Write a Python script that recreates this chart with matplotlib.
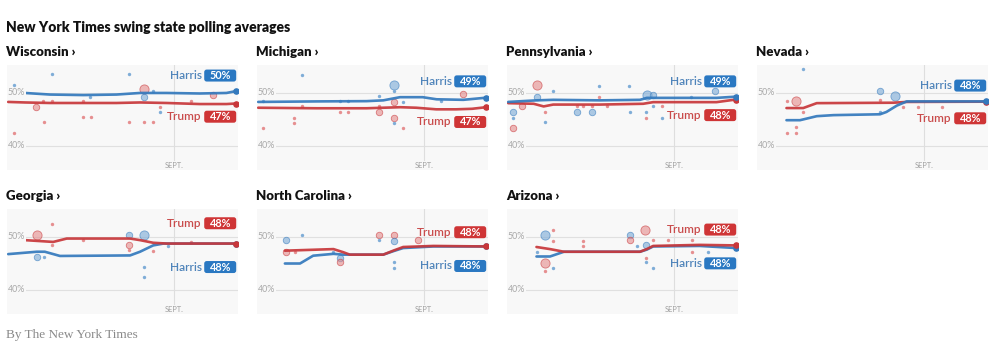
import matplotlib
matplotlib.use("Agg")
import matplotlib.pyplot as plt
from matplotlib.patches import FancyBboxPatch
import matplotlib.transforms as mtransforms

# ---------------- data (days since July 21; Sept 1 = day 42) ----------------
title = "New York Times swing state polling averages"
byline = "By The New York Times"
sept_day = 42

states = ["Wisconsin", "Michigan", "Pennsylvania", "Nevada",
          "Georgia", "North Carolina", "Arizona"]

wi_h_days = [0.3, 4.5, 10.8, 19.2, 27.5, 33.4, 40.1, 48.4, 55.1, 57.5]
wi_harris = [50.1, 50.0, 49.7, 49.6, 49.7, 50.0, 50.0, 49.9, 50.0, 50.35]
wi_t_days = [0.3, 4.5, 10.8, 19.2, 27.5, 33.4, 40.1, 48.4, 55.1, 57.5]
wi_trump = [48.3, 48.2, 48.1, 48.1, 48.1, 48.2, 48.1, 47.9, 47.9, 48.0]
wi_polls = [(11.2, 53.6, "H", 1), (30.7, 53.6, "H", 1), (1.8, 51.5, "H", 1),
            (34.4, 50.7, "T", 3), (34.4, 49.3, "H", 2), (36.6, 50.4, "H", 1),
            (20.8, 49.3, "H", 1), (51.8, 49.6, "T", 2), (7.4, 47.3, "T", 2),
            (9.1, 48.5, "T", 1), (11.2, 48.5, "T", 1), (19.0, 48.5, "T", 1),
            (46.1, 48.5, "T", 1), (38.4, 47.4, "T", 1), (38.4, 46.4, "H", 1),
            (19.0, 45.5, "T", 1), (21.0, 45.5, "T", 1), (9.4, 44.5, "T", 1),
            (30.7, 44.5, "T", 1), (34.4, 44.5, "T", 1), (36.6, 44.5, "T", 1),
            (1.8, 42.4, "T", 1)]

mi_h_days = [0.3, 15.0, 27.5, 31.7, 35.9, 41.6, 45.1, 51.8, 57.5]
mi_harris = [48.3, 48.4, 48.45, 48.6, 49.2, 49.2, 48.8, 48.7, 49.1]
mi_t_days = [0.3, 15.0, 27.5, 31.7, 36.0, 40.0, 45.0, 50.0, 54.0, 57.5]
mi_trump = [47.2, 47.1, 47.1, 47.2, 47.3, 47.2, 46.9, 46.9, 47.0, 47.3]
mi_polls = [(11.2, 53.4, "H", 1), (34.4, 51.5, "H", 3), (34.4, 50.4, "H", 1),
            (1.6, 48.4, "H", 1), (34.4, 48.3, "T", 2), (36.6, 48.3, "H", 1),
            (20.8, 48.4, "H", 1), (22.9, 48.4, "H", 1), (30.7, 49.5, "H", 1),
            (30.7, 47.45, "T", 1), (30.7, 46.4, "T", 2), (51.8, 49.8, "T", 2),
            (46.1, 48.4, "H", 1), (20.8, 46.4, "T", 1), (22.9, 46.4, "T", 1),
            (9.4, 45.3, "T", 1), (9.4, 44.3, "T", 1), (34.4, 45.3, "T", 2),
            (34.4, 44.3, "H", 1), (36.6, 43.4, "T", 1), (1.6, 43.4, "T", 1),
            (11.2, 47.45, "T", 1)]

pa_h_days = [0.3, 7.4, 11.6, 23.3, 33.4, 35.1, 52.6, 57.5]
pa_harris = [48.3, 48.6, 48.7, 48.6, 48.7, 49.07, 49.07, 49.3]
pa_t_days = [0.3, 6.7, 9.2, 11.6, 23.3, 34.2, 36.7, 52.6, 57.5]
pa_trump = [48.07, 47.95, 47.45, 47.8, 47.8, 47.95, 48.26, 48.26, 48.76]
pa_polls = [(7.6, 51.5, "T", 3), (7.6, 49.3, "H", 2), (11.6, 50.4, "H", 1),
            (23.2, 51.4, "H", 1), (30.7, 51.4, "H", 1), (23.2, 49.3, "T", 1),
            (35.1, 49.6, "H", 3), (36.7, 49.6, "H", 2), (52.2, 50.3, "H", 2),
            (46.3, 49.3, "H", 1), (1.6, 46.4, "H", 2), (1.6, 45.3, "H", 1),
            (1.6, 43.3, "T", 2), (3.7, 47.45, "T", 2), (9.5, 46.4, "T", 1),
            (9.5, 44.5, "H", 1), (17.5, 46.4, "H", 2), (21.3, 46.4, "H", 2),
            (17.5, 47.45, "T", 1), (19.2, 47.45, "T", 1), (21.3, 47.45, "T", 1),
            (25.0, 47.45, "T", 1), (30.9, 46.4, "H", 1), (34.9, 46.4, "H", 1),
            (34.9, 45.3, "T", 1), (36.7, 47.45, "H", 1), (38.8, 45.3, "H", 1),
            (38.8, 47.45, "T", 1)]

nv_h_days = [7.4, 10.8, 15.0, 19.2, 30.9, 32.5, 35.1, 37.6, 57.5]
nv_harris = [44.84, 44.84, 45.6, 45.8, 45.96, 46.4, 47.6, 48.4, 48.4]
nv_t_days = [7.4, 11.6, 15.0, 34.2, 37.6, 57.5]
nv_trump = [47.14, 47.14, 48.07, 48.15, 48.3, 48.35]
nv_polls = [(11.5, 54.5, "H", 1), (7.6, 48.4, "T", 1), (9.7, 48.4, "T", 3),
            (11.6, 46.4, "T", 1), (9.7, 43.5, "T", 1), (7.6, 42.4, "T", 1),
            (9.7, 42.4, "T", 1), (30.9, 50.4, "H", 2), (30.9, 48.7, "T", 1),
            (30.9, 46.4, "H", 1), (34.6, 49.4, "H", 3), (36.7, 47.3, "T", 1),
            (40.5, 47.3, "T", 1), (46.4, 47.3, "T", 1)]

ga_h_days = [0.3, 7.5, 9.5, 13.3, 30.9, 33.4, 36.7, 39.3, 57.5]
ga_harris = [46.75, 47.2, 47.2, 46.4, 46.5, 47.2, 48.4, 48.75, 48.75]
ga_t_days = [0.3, 4.5, 11.6, 15.0, 30.9, 33.4, 36.7, 40.1, 57.5]
ga_trump = [49.4, 49.4, 49.06, 49.7, 49.7, 49.4, 48.9, 48.75, 48.75]
ga_polls = [(11.2, 52.4, "T", 1), (7.5, 50.4, "T", 3), (11.2, 48.4, "T", 1),
            (19.0, 49.4, "T", 1), (30.7, 50.4, "H", 2), (34.4, 50.4, "H", 3),
            (30.7, 48.4, "T", 2), (30.7, 47.5, "T", 1), (7.5, 46.25, "H", 2),
            (9.4, 46.25, "H", 1), (36.6, 47.3, "T", 1), (34.4, 44.25, "H", 1),
            (34.4, 42.4, "H", 1), (40.5, 48.25, "H", 1), (46.1, 49.1, "T", 1)]

nc_h_days = [7.0, 10.8, 14.1, 19.2, 21.7, 23.3, 31.7, 34.2, 36.7, 44.3, 57.5]
nc_harris = [44.97, 44.97, 46.45, 46.8, 46.65, 46.65, 46.65, 47.3, 47.9, 48.2, 48.2]
nc_t_days = [7.0, 19.2, 21.7, 23.3, 31.7, 34.2, 36.7, 44.3, 57.5]
nc_trump = [47.4, 47.7, 47.1, 46.65, 46.65, 47.4, 48.1, 48.3, 48.2]
nc_polls = [(7.4, 49.35, "H", 2), (11.2, 50.45, "H", 1), (7.4, 47.2, "T", 2),
            (9.5, 47.1, "T", 1), (20.8, 46.1, "H", 2), (20.8, 45.2, "T", 2),
            (30.7, 50.3, "T", 2), (30.7, 49.35, "H", 1), (34.4, 50.3, "T", 2),
            (34.4, 49.2, "H", 2), (34.4, 45.2, "H", 1), (34.4, 44.1, "H", 1),
            (40.5, 49.35, "T", 2), (19.2, 47.2, "H", 1)]

az_h_days = [7.4, 10.8, 14.3, 33.4, 35.1, 36.7, 48.4, 57.5]
az_harris = [46.3, 46.3, 47.2, 47.2, 47.6, 48.2, 48.3, 47.9]
az_t_days = [7.4, 10.8, 14.3, 33.4, 35.1, 36.7, 48.4, 57.5]
az_trump = [48.1, 47.7, 47.2, 47.2, 47.7, 48.3, 48.5, 48.4]
az_polls = [(9.5, 50.3, "H", 3), (11.6, 51.3, "T", 1), (11.6, 49.2, "T", 1),
            (9.5, 45.0, "T", 3), (9.5, 43.5, "T", 1), (11.6, 44.1, "H", 1),
            (7.6, 47.2, "H", 1), (19.2, 49.2, "T", 1), (19.2, 48.3, "T", 1),
            (30.9, 50.3, "H", 2), (30.9, 49.35, "T", 2), (34.6, 51.3, "T", 3),
            (34.9, 48.4, "H", 2), (32.7, 48.3, "H", 1), (34.9, 46.1, "T", 1),
            (34.9, 45.2, "H", 1), (36.7, 44.1, "H", 1), (36.7, 49.35, "T", 1),
            (40.5, 49.35, "T", 1), (46.4, 49.35, "T", 1), (46.4, 47.2, "T", 1),
            (50.4, 47.2, "H", 1)]

harris_final = [50, 49, 49, 48, 48, 48, 48]
trump_final = [47, 47, 48, 48, 48, 48, 48]

# ---------------- assemble ----------------
state_data = {
    "Wisconsin": (wi_h_days, wi_harris, wi_t_days, wi_trump, wi_polls),
    "Michigan": (mi_h_days, mi_harris, mi_t_days, mi_trump, mi_polls),
    "Pennsylvania": (pa_h_days, pa_harris, pa_t_days, pa_trump, pa_polls),
    "Nevada": (nv_h_days, nv_harris, nv_t_days, nv_trump, nv_polls),
    "Georgia": (ga_h_days, ga_harris, ga_t_days, ga_trump, ga_polls),
    "North Carolina": (nc_h_days, nc_harris, nc_t_days, nc_trump, nc_polls),
    "Arizona": (az_h_days, az_harris, az_t_days, az_trump, az_polls),
}

# label placement (value units): (harris_y, trump_y)
label_y = {
    "Wisconsin": (53.3, 45.5), "Michigan": (52.2, 44.5),
    "Pennsylvania": (52.2, 45.8), "Nevada": (51.4, 45.2),
    "Georgia": (44.3, 52.6), "North Carolina": (44.5, 50.9),
    "Arizona": (45.0, 51.4),
}
harris_on_top = {"Nevada": True, "Wisconsin": True, "Michigan": True,
                 "Pennsylvania": True}

BLUE_LINE = "#3379bd"
RED_LINE = "#c8373a"
BLUE_BOX = "#2a78c2"
RED_BOX = "#cf3536"
BLUE_TXT = "#4f84ba"
RED_TXT = "#c94b4b"
BLUE_DOT = "#79a9d6"
RED_DOT = "#e58a8b"
BG = "#f8f8f8"

W, H = 994, 364
fig = plt.figure(figsize=(W / 100, H / 100), dpi=100)
fig.patch.set_facecolor("white")

SANS = ["Lato", "DejaVu Sans"]

fig.text(6 / W, 1 - 28 / H, title, fontsize=10, fontweight="heavy",
         family=SANS, color="#121212", va="center", ha="left")
fig.text(6 / W, 1 - 335 / H, byline, fontsize=9.5, family=["Liberation Serif"],
         color="#8a8a8a", va="center", ha="left")

col_left = [7, 257, 507, 757]
row_top = [65, 209]
PW, PH = 231, 105
size_map = {1: 6, 2: 22, 3: 44}

for i, name in enumerate(states):
    r, c = divmod(i, 4)
    L, T = col_left[c], row_top[r]
    ax = fig.add_axes([L / W, 1 - (T + PH) / H, PW / W, PH / H])
    ax.set_facecolor(BG)
    for s in ax.spines.values():
        s.set_visible(False)
    ax.set_xticks([])
    ax.set_yticks([])
    ax.set_xlim(0, 58)
    ax.set_ylim(35.4, 55.3)

    fig.text((L - 1) / W, 1 - (T - 13) / H, name + " \u203a", fontsize=9.5,
             fontweight="heavy", family=SANS, color="#121212",
             va="center", ha="left")

    for g in (50, 40):
        ax.axhline(g, color="#e0e0e0", lw=0.8, zorder=1)
        ax.text(0.2, g, f"{g}%", fontsize=6.4, color="#a8a8a8", family=SANS,
                va="center", ha="left", zorder=6,
                bbox=dict(fc=BG, ec="none", pad=0.3))
    ax.plot([sept_day, sept_day], [37.3, 55.3], color="#dedede", lw=0.8,
            zorder=1)
    ax.text(sept_day, 36.3, "SEPT.", fontsize=5.4, color="#a0a0a0",
            family=SANS, ha="center", va="center")

    hd, hv, td, tv, polls = state_data[name]

    for (d, v, p, w) in polls:
        base = BLUE_DOT if p == "H" else RED_DOT
        edge = BLUE_LINE if p == "H" else RED_LINE
        if w == 1:
            ax.scatter([d], [v], s=size_map[w], color=base, lw=0, zorder=2,
                       alpha=0.95)
        else:
            ax.scatter([d], [v], s=size_map[w], facecolor=base, edgecolor=edge,
                       lw=0.6, alpha=0.6, zorder=2)

    top_h = harris_on_top.get(name, False)
    zh, zt = (5, 4) if top_h else (4, 5)
    ax.plot(hd, hv, color=BLUE_LINE, lw=1.9, solid_capstyle="round",
            zorder=zh, alpha=0.92)
    ax.plot(td, tv, color=RED_LINE, lw=1.9, solid_capstyle="round",
            zorder=zt, alpha=0.92)
    ax.scatter([hd[-1]], [hv[-1]], s=14, color=BLUE_LINE, zorder=zh)
    ax.scatter([td[-1]], [tv[-1]], s=14, color=RED_LINE, zorder=zt)

    trans = mtransforms.blended_transform_factory(ax.transAxes, ax.transData)
    hy, ty = label_y[name]
    for who, yv, val, tc, bc in (("Harris", hy, harris_final[i], BLUE_TXT, BLUE_BOX),
                                 ("Trump", ty, trump_final[i], RED_TXT, RED_BOX)):
        ax.text(0.842, yv, who, transform=trans, ha="right", va="center",
                fontsize=8.6, color=tc, family=SANS, fontweight="semibold",
                zorder=7)
        cx_disp, cy_disp = trans.transform((0.923, yv))
        box = FancyBboxPatch((cx_disp - 16, cy_disp - 6), 32, 12,
                             boxstyle="round,pad=0,rounding_size=2.5",
                             transform=mtransforms.IdentityTransform(),
                             fc=bc, ec="none", zorder=7)
        ax.add_patch(box)
        ax.text(0.923, yv, f"{val}%", transform=trans, ha="center",
                va="center", fontsize=7.8, color="white", fontweight="bold",
                family=SANS, zorder=8)

fig.savefig("out.png", dpi=100, facecolor="white")
